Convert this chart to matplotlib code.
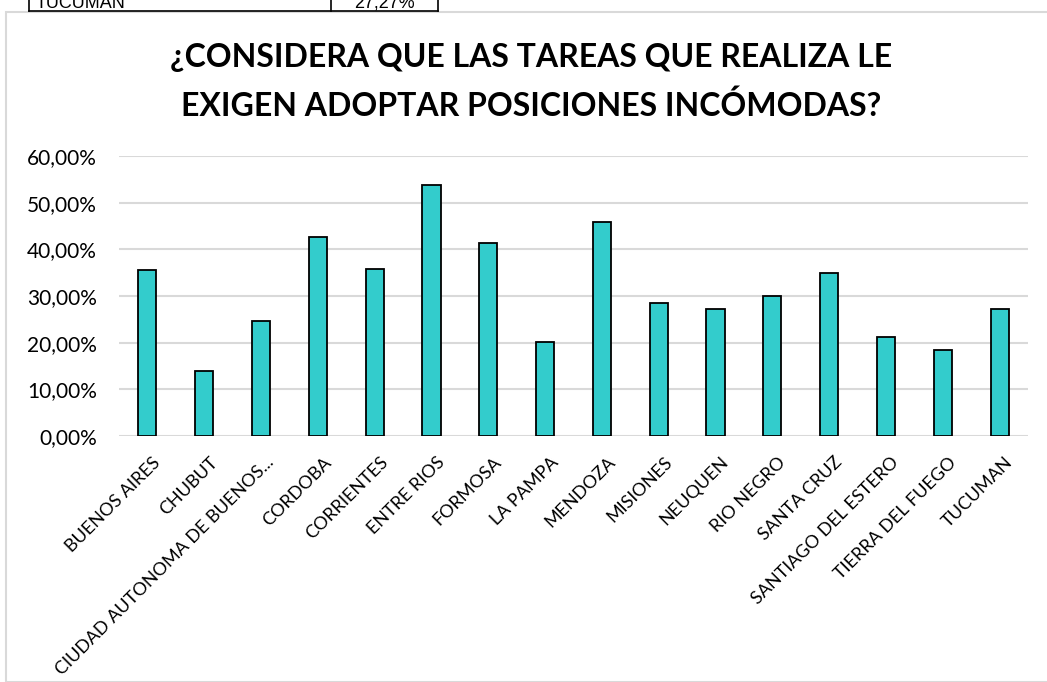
import matplotlib.pyplot as plt
from matplotlib.patches import Rectangle
from matplotlib.lines import Line2D
from matplotlib.ticker import FuncFormatter
from matplotlib.transforms import ScaledTranslation

provincias = ["BUENOS AIRES", "CHUBUT", "CIUDAD AUTONOMA DE BUENOS...", "CORDOBA",
              "CORRIENTES", "ENTRE RIOS", "FORMOSA", "LA PAMPA", "MENDOZA",
              "MISIONES", "NEUQUEN", "RIO NEGRO", "SANTA CRUZ",
              "SANTIAGO DEL ESTERO", "TIERRA DEL FUEGO", "TUCUMAN"]
valores = [35.6, 14.0, 24.7, 42.7, 35.8, 53.8, 41.3, 20.2, 45.9,
           28.4, 27.3, 29.9, 34.9, 21.3, 18.4, 27.27]
yticks = [0, 10, 20, 30, 40, 50, 60]

plt.rcParams['font.family'] = ['Lato', 'DejaVu Sans']

fig = plt.figure(figsize=(10.47, 6.82), dpi=100)
W, H = 1047, 682

# marco del gráfico
fig.patches.append(Rectangle((6 / W, 0), 1.2, 1 - 12 / H, transform=fig.transFigure,
                             fill=False, edgecolor='#d9d9d9', linewidth=1.5))

# resto de la tabla de arriba (cortada)
for xl in [29, 331, 438]:
    fig.add_artist(Line2D([xl / W, xl / W], [1, 1 - 11 / H], color='black', lw=1.2,
                          transform=fig.transFigure))
fig.add_artist(Line2D([29 / W, 438 / W], [1 - 11 / H] * 2, color='black', lw=1.2,
                      transform=fig.transFigure))
fig.text(36 / W, 1 - 8 / H, "TUCUMAN", fontsize=13, va='baseline', family='Liberation Sans')
fig.text(384 / W, 1 - 8 / H, "27,27%", fontsize=13, va='baseline', ha='center',
         family='Liberation Sans')

ax = fig.add_axes([119 / W, 1 - 436 / H, 909 / W, 280 / H])
x = list(range(len(provincias)))
ax.bar(x, valores, width=0.32, color='#33cccc', edgecolor='black', linewidth=1.3, zorder=3)

ax.set_ylim(0, 60)
ax.set_xlim(-0.5, len(provincias) - 0.5)
ax.set_yticks(yticks)
ax.yaxis.set_major_formatter(FuncFormatter(lambda v, p: f"{v:.2f}%".replace('.', ',')))
ax.grid(axis='y', color='#d9d9d9', linewidth=1.5, zorder=0)
for s in ax.spines.values():
    s.set_visible(False)
ax.set_xticks(x)
ax.set_xticklabels(provincias, rotation=45, ha='right', rotation_mode='anchor')
ax.tick_params(axis='y', length=0, labelsize=15, pad=16)
ax.tick_params(axis='x', length=0, labelsize=13, pad=13)
off = ScaledTranslation(5 / 100, 0, fig.dpi_scale_trans)
for lbl in ax.get_xticklabels():
    lbl.set_transform(lbl.get_transform() + off)

fig.text(531 / W, 1 - 58 / H, "¿CONSIDERA QUE LAS TAREAS QUE REALIZA LE", ha='center',
         va='center', fontsize=23, fontweight='bold')
fig.text(531 / W, 1 - 106 / H, "EXIGEN ADOPTAR POSICIONES INCÓMODAS?", ha='center',
         va='center', fontsize=23, fontweight='bold')

fig.savefig("out.png", dpi=100)
